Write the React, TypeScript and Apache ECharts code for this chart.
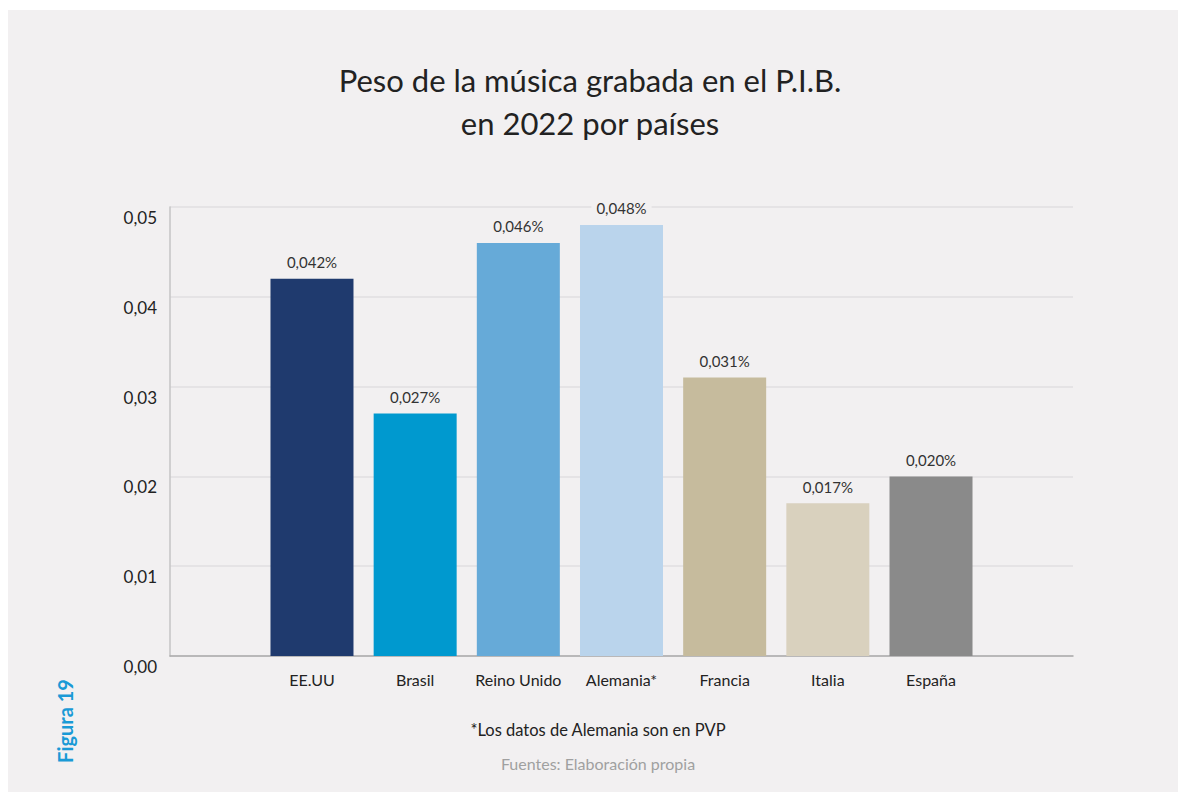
import React, { useEffect, useRef } from "react";
import * as echarts from "echarts";

const categories = ["EE.UU", "Brasil", "Reino Unido", "Alemania*", "Francia", "Italia", "España"];
const values = [0.042, 0.027, 0.046, 0.048, 0.031, 0.017, 0.02];
const barColors = ["#1f3a6e", "#0099cf", "#66aad8", "#bad4ec", "#c6bb9d", "#d9d1be", "#8a8a8a"];
const yTicks = { min: 0, max: 0.05, interval: 0.01 };
const titleText = "Peso de la música grabada en el P.I.B.\nen 2022 por países";
const noteText = "*Los datos de Alemania son en PVP";
const sourceText = "Fuentes: Elaboración propia";
const figText = "Figura 19";

const FONT = "Lato, 'Noto Sans', sans-serif";
const BG = "#f2f0f1";

export default function App() {
  const ref = useRef<HTMLDivElement>(null);
  useEffect(() => {
    if (!ref.current) return;
    const chart = echarts.init(ref.current, undefined, { renderer: "svg" });
    const option: any = {
      animation: false,
      backgroundColor: "#ffffff",
      textStyle: { fontFamily: FONT },
      graphic: [
        { type: "rect", left: 0, top: 2, shape: { width: 1178, height: 782 }, style: { fill: BG }, z: -10, silent: true },
        {
          type: "text",
          x: 582,
          y: 93,
          style: {
            text: titleText,
            font: `31px ${FONT}`,
            fill: "#222222",
            align: "center",
            verticalAlign: "middle",
            lineHeight: 43,
          },
        },
        {
          type: "text",
          x: 590,
          y: 722,
          style: { text: noteText, font: `16.5px ${FONT}`, fill: "#222222", align: "center", verticalAlign: "middle" },
        },
        {
          type: "text",
          x: 590,
          y: 755,
          style: { text: sourceText, font: `16px ${FONT}`, fill: "#a0a0a0", align: "center", verticalAlign: "middle" },
        },
        {
          type: "text",
          x: 57,
          y: 713,
          rotation: Math.PI / 2,
          style: { text: figText, font: `bold 20px ${FONT}`, fill: "#1a9ad6", align: "center", verticalAlign: "middle" },
        },
      ],
      grid: [
        { left: 162, top: 199, width: 903, height: 449 },
        { left: 252.4, top: 199, width: 722.2, height: 449 },
      ],
      xAxis: [
        {
          gridIndex: 0,
          type: "value",
          min: 0,
          max: 1,
          axisLine: { show: true, onZero: false, lineStyle: { color: "#aaaaaa", width: 1.5 } },
          axisTick: { show: false },
          axisLabel: { show: false },
          splitLine: { show: false },
        },
        {
          gridIndex: 1,
          type: "category",
          data: categories,
          axisLine: { show: false },
          axisTick: { show: false },
          axisLabel: { color: "#222222", fontSize: 16, margin: 15, interval: 0, fontFamily: FONT },
        },
      ],
      yAxis: [
        {
          gridIndex: 0,
          type: "value",
          min: yTicks.min,
          max: yTicks.max,
          interval: yTicks.interval,
          axisLine: { show: true, lineStyle: { color: "#c4c4c4", width: 1.5 } },
          axisTick: { show: false },
          axisLabel: {
            color: "#222222",
            fontSize: 17,
            margin: 13,
            verticalAlign: "top",
            padding: [2, 0, 0, 0],
            fontFamily: FONT,
            formatter: (v: number) => v.toFixed(2).replace(".", ","),
          },
          splitLine: { show: true, lineStyle: { color: "#e1dfe0", width: 1.5 } },
        },
        {
          gridIndex: 1,
          type: "value",
          min: yTicks.min,
          max: yTicks.max,
          show: false,
          splitLine: { show: false },
        },
      ],
      series: [
        {
          type: "bar",
          xAxisIndex: 1,
          yAxisIndex: 1,
          barWidth: 83,
          data: values.map((v, i) => ({ value: v, itemStyle: { color: barColors[i] } })),
          label: {
            show: true,
            position: "top",
            distance: 9,
            color: "#333333",
            fontSize: 15,
            fontFamily: FONT,
            backgroundColor: BG,
            padding: [0, 5],
            formatter: (p: any) => p.value.toFixed(3).replace(".", ",") + "%",
          },
          z: 3,
        },
      ],
    };
    chart.setOption(option);
    return () => chart.dispose();
  }, []);
  return <div ref={ref} style={{ width: 1178, height: 784 }} />;
}
